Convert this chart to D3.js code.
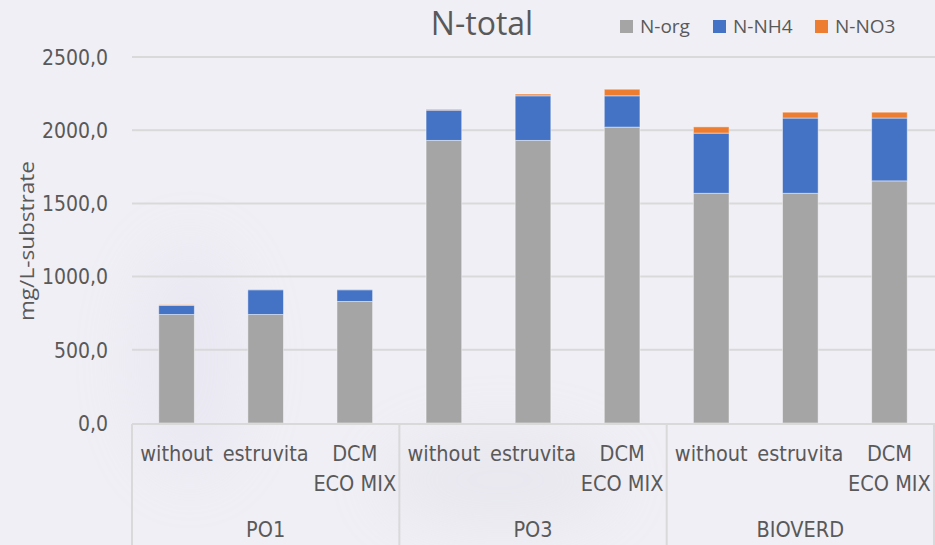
<!DOCTYPE html>
<html>
<head>
<meta charset="utf-8">
<script src="https://cdn.jsdelivr.net/npm/d3@7"></script>
<style>
  body { margin: 0; background: #f0eff5; }
  svg { display: block; }
</style>
</head>
<body>
<div id="chart"></div>
<script>
// data
const groups = ["PO1", "PO3", "BIOVERD"];
const treatments = ["without", "estruvita", "DCM ECO MIX"];
const seriesNames = ["N-org", "N-NH4", "N-NO3"];
const nOrg = [741, 741, 830, 1930, 1930, 2021, 1569, 1569, 1654];
const nNH4 = [63, 169, 80, 207, 305, 214, 411, 514, 429];
const nNO3 = [4, 3, 3, 6, 12, 45, 43, 40, 40];
const yTicks = [0, 500, 1000, 1500, 2000, 2500];
const colors = ["#a5a5a5", "#4472c4", "#ed7d31"];

const W = 935, H = 545;
const margin = { top: 57, right: 1, bottom: 122, left: 132 };
const labelFont = "'Liberation Sans Narrow', 'DejaVu Sans Condensed', 'Noto Sans', sans-serif";
const textCol = "#595959";
const gridCol = "#d9d9d9";

const svg = d3.select('#chart').append('svg')
  .attr('width', W)
  .attr('height', H);

// faint lavender backdrop, like the photo behind the original
const defs = svg.append('defs');
const blur = defs.append('filter').attr('id', 'soft').attr('x', '-50%').attr('y', '-50%').attr('width', '200%').attr('height', '200%');
blur.append('feGaussianBlur').attr('stdDeviation', 30);
svg.append('rect').attr('width', W).attr('height', H).attr('fill', '#f0eff5');
const blobs = svg.append('g').attr('filter', 'url(#soft)').attr('opacity', 0.18);
blobs.append('ellipse').attr('cx', 190).attr('cy', 360).attr('rx', 60).attr('ry', 120).attr('fill', '#cfcbe6');
blobs.append('ellipse').attr('cx', 500).attr('cy', 480).attr('rx', 120).attr('ry', 50).attr('fill', '#c9c8d6');

// one row per bar
const rows = [];
groups.forEach((g, gi) => {
  treatments.forEach((t, ti) => {
    const i = gi * treatments.length + ti;
    rows.push({ key: g + '|' + t, group: g, treatment: t, "N-org": nOrg[i], "N-NH4": nNH4[i], "N-NO3": nNO3[i] });
  });
});

const x = d3.scaleBand()
  .domain(rows.map(d => d.key))
  .range([margin.left, W - margin.right])
  .paddingInner(0.6)
  .paddingOuter(0.3);

const y = d3.scaleLinear()
  .domain([0, 2500])
  .range([H - margin.bottom, margin.top]);

// gridlines
svg.append('g')
  .selectAll('line')
  .data(yTicks.slice(1))
  .join('line')
  .attr('x1', margin.left)
  .attr('x2', W)
  .attr('y1', d => y(d))
  .attr('y2', d => y(d))
  .attr('stroke', gridCol)
  .attr('stroke-width', 2);

// y axis labels
const yAxis = svg.append('g')
  .attr('transform', `translate(${margin.left - 24},0)`)
  .call(d3.axisLeft(y).tickValues(yTicks).tickSize(0).tickFormat(d => d3.format('.1f')(d).replace('.', ',')));
yAxis.select('.domain').remove();
yAxis.selectAll('text')
  .attr('x', 0)
  .attr('dy', '0.35em')
  .style('font-family', labelFont)
  .style('font-size', '21px')
  .style('fill', textCol);

// y title
svg.append('text')
  .attr('transform', `translate(34, ${(margin.top + H - margin.bottom) / 2 + 1}) rotate(-90)`)
  .attr('text-anchor', 'middle')
  .attr('textLength', 160)
  .attr('lengthAdjust', 'spacingAndGlyphs')
  .style('font-family', "'Open Sans', sans-serif")
  .style('font-size', '20px')
  .style('fill', textCol)
  .text('mg/L-substrate');

// stacked bars
const stack = d3.stack().keys(seriesNames);
const layers = stack(rows);

svg.append('g')
  .selectAll('g')
  .data(layers)
  .join('g')
  .attr('fill', (d, i) => colors[i])
  .selectAll('rect')
  .data(d => d)
  .join('rect')
  .attr('x', d => x(d.data.key))
  .attr('width', x.bandwidth())
  .attr('y', d => y(d[1]))
  .attr('height', d => y(d[0]) - y(d[1]))
  .attr('stroke', 'rgba(255,255,255,0.45)')
  .attr('stroke-width', 1);

// category axis (two-level)
const axisY = H - margin.bottom + 1;
const groupW = (W - margin.right - margin.left) / groups.length;
const cat = svg.append('g');
cat.append('line')
  .attr('x1', margin.left).attr('x2', W)
  .attr('y1', axisY).attr('y2', axisY)
  .attr('stroke', gridCol).attr('stroke-width', 2);
cat.selectAll('line.div')
  .data(d3.range(groups.length + 1))
  .join('line')
  .attr('class', 'div')
  .attr('x1', i => margin.left + i * groupW)
  .attr('x2', i => margin.left + i * groupW)
  .attr('y1', axisY)
  .attr('y2', H)
  .attr('stroke', gridCol)
  .attr('stroke-width', 2);

// treatment labels (wrapped like the original)
rows.forEach(d => {
  const cx = x(d.key) + x.bandwidth() / 2;
  const lines = d.treatment === 'DCM ECO MIX' ? ['DCM', 'ECO MIX'] : [d.treatment];
  lines.forEach((ln, li) => {
    cat.append('text')
      .attr('x', cx)
      .attr('y', 461 + li * 30)
      .attr('text-anchor', 'middle')
      .style('font-family', labelFont)
      .style('font-size', '21.5px')
      .style('fill', textCol)
      .text(ln);
  });
});

// group labels
groups.forEach((g, gi) => {
  cat.append('text')
    .attr('x', margin.left + gi * groupW + groupW / 2)
    .attr('y', 537)
    .attr('text-anchor', 'middle')
    .style('font-family', labelFont)
    .style('font-size', '21.5px')
    .style('fill', textCol)
    .text(g);
});

// title
svg.append('text')
  .attr('x', 482)
  .attr('y', 35)
  .attr('text-anchor', 'middle')
  .style('font-family', "'Open Sans', sans-serif")
  .style('font-size', '32px')
  .style('fill', textCol)
  .text('N-total');

// legend
const legendX = [620, 713, 815];
const legend = svg.append('g')
  .selectAll('g')
  .data(seriesNames)
  .join('g')
  .attr('transform', (d, i) => `translate(${legendX[i]}, 20)`);
legend.append('rect')
  .attr('width', 13).attr('height', 13)
  .attr('fill', (d, i) => colors[i]);
legend.append('text')
  .attr('x', 20)
  .attr('y', 13)
  .style('font-family', "'Open Sans', sans-serif")
  .style('font-size', '19px')
  .style('fill', textCol)
  .text(d => d);
</script>
</body>
</html>
